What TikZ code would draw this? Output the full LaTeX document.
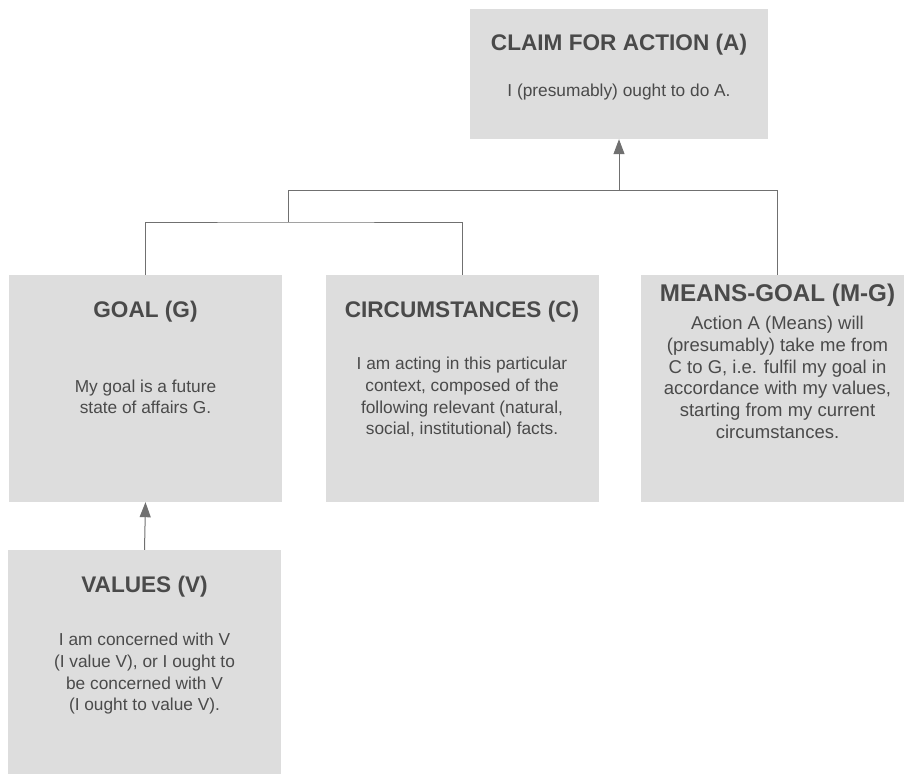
\documentclass[tikz,border=0pt]{standalone}
\usepackage{fontspec}
\setmainfont{Liberation Sans}
\usepackage{xcolor}
\usetikzlibrary{arrows.meta,positioning,calc}

\definecolor{boxgray}{HTML}{DDDDDD}
\definecolor{txtgray}{HTML}{4A4A4A}
\definecolor{linegray}{HTML}{707070}

\begin{document}
\begin{tikzpicture}[
  x=1pt, y=-1pt,
  box/.style={fill=boxgray, draw=none, inner sep=0pt, minimum width=273pt, minimum height=227pt},
  ttl/.style={font=\fontsize{22.6}{27}\selectfont\bfseries, text=txtgray, inner sep=0pt},
  bodytxt/.style={font=\fontsize{17.3}{21.8}\selectfont, text=txtgray, align=center, inner sep=0pt},
  line/.style={draw=linegray, line width=1pt},
  arr/.style={line, -{Triangle[length=15pt, width=11pt]}}
]
\useasboundingbox (0,0) rectangle (904,773);

\node[box, minimum width=298pt, minimum height=130pt] (claim) at (619,74) {};
\node[box] (goal) at (145.5,388.5) {};
\node[box] (circ) at (462,388.5) {};
\node[box] (means) at (777.5,388.5) {};
\node[box] (val) at (144.5,663.5) {};

\node[ttl] (claimttl) at ([yshift=-36pt]claim.north) {CLAIM FOR ACTION (A)};
\node[bodytxt] (claimtxt) at ([yshift=-83pt]claim.north) {I (presumably) ought to do A.};

\node[ttl] (goalttl) at ([yshift=-37pt]goal.north) {GOAL (G)};
\node[bodytxt] (goaltxt) at ([yshift=-122pt]goal.north) {My goal is a future\\state of affairs G.};

\node[ttl] (circttl) at ([yshift=-37pt]circ.north) {CIRCUMSTANCES (C)};
\node[bodytxt] (circtxt) at ([yshift=-123pt]circ.north)
  {I am acting in this particular\\context, composed of the\\following relevant (natural,\\social, institutional) facts.};

\node[ttl, font=\fontsize{24.2}{29}\selectfont\bfseries] (meansttl) at ([yshift=-20pt]means.north) {MEANS-GOAL (M-G)};
\node[bodytxt, font=\fontsize{18.5}{21.8}\selectfont] (meanstxt) at ([yshift=-102.5pt]means.north)
  {Action A (Means) will\\(presumably) take me from\\C to G, i.e. fulfil my goal in\\accordance with my values,\\starting from my current\\circumstances.};

\node[ttl] (valttl) at ([yshift=-37pt]val.north) {VALUES (V)};
\node[bodytxt] (valtxt) at ([yshift=-124pt]val.north)
  {I am concerned with V\\(I value V), or I ought to\\be concerned with V\\(I ought to value V).};

\coordinate (split) at (288,222);
\coordinate (join) at (288,190);

\draw[line] (goal.north) |- (split) -| (circ.north);
\draw[line] (split) -- (join);
\draw[line] (join) -| (means.north);
\draw[arr] (join -| claim.south) -- (claim.south);
\draw[arr] (val.north) -- (goal.south);
\end{tikzpicture}
\end{document}
